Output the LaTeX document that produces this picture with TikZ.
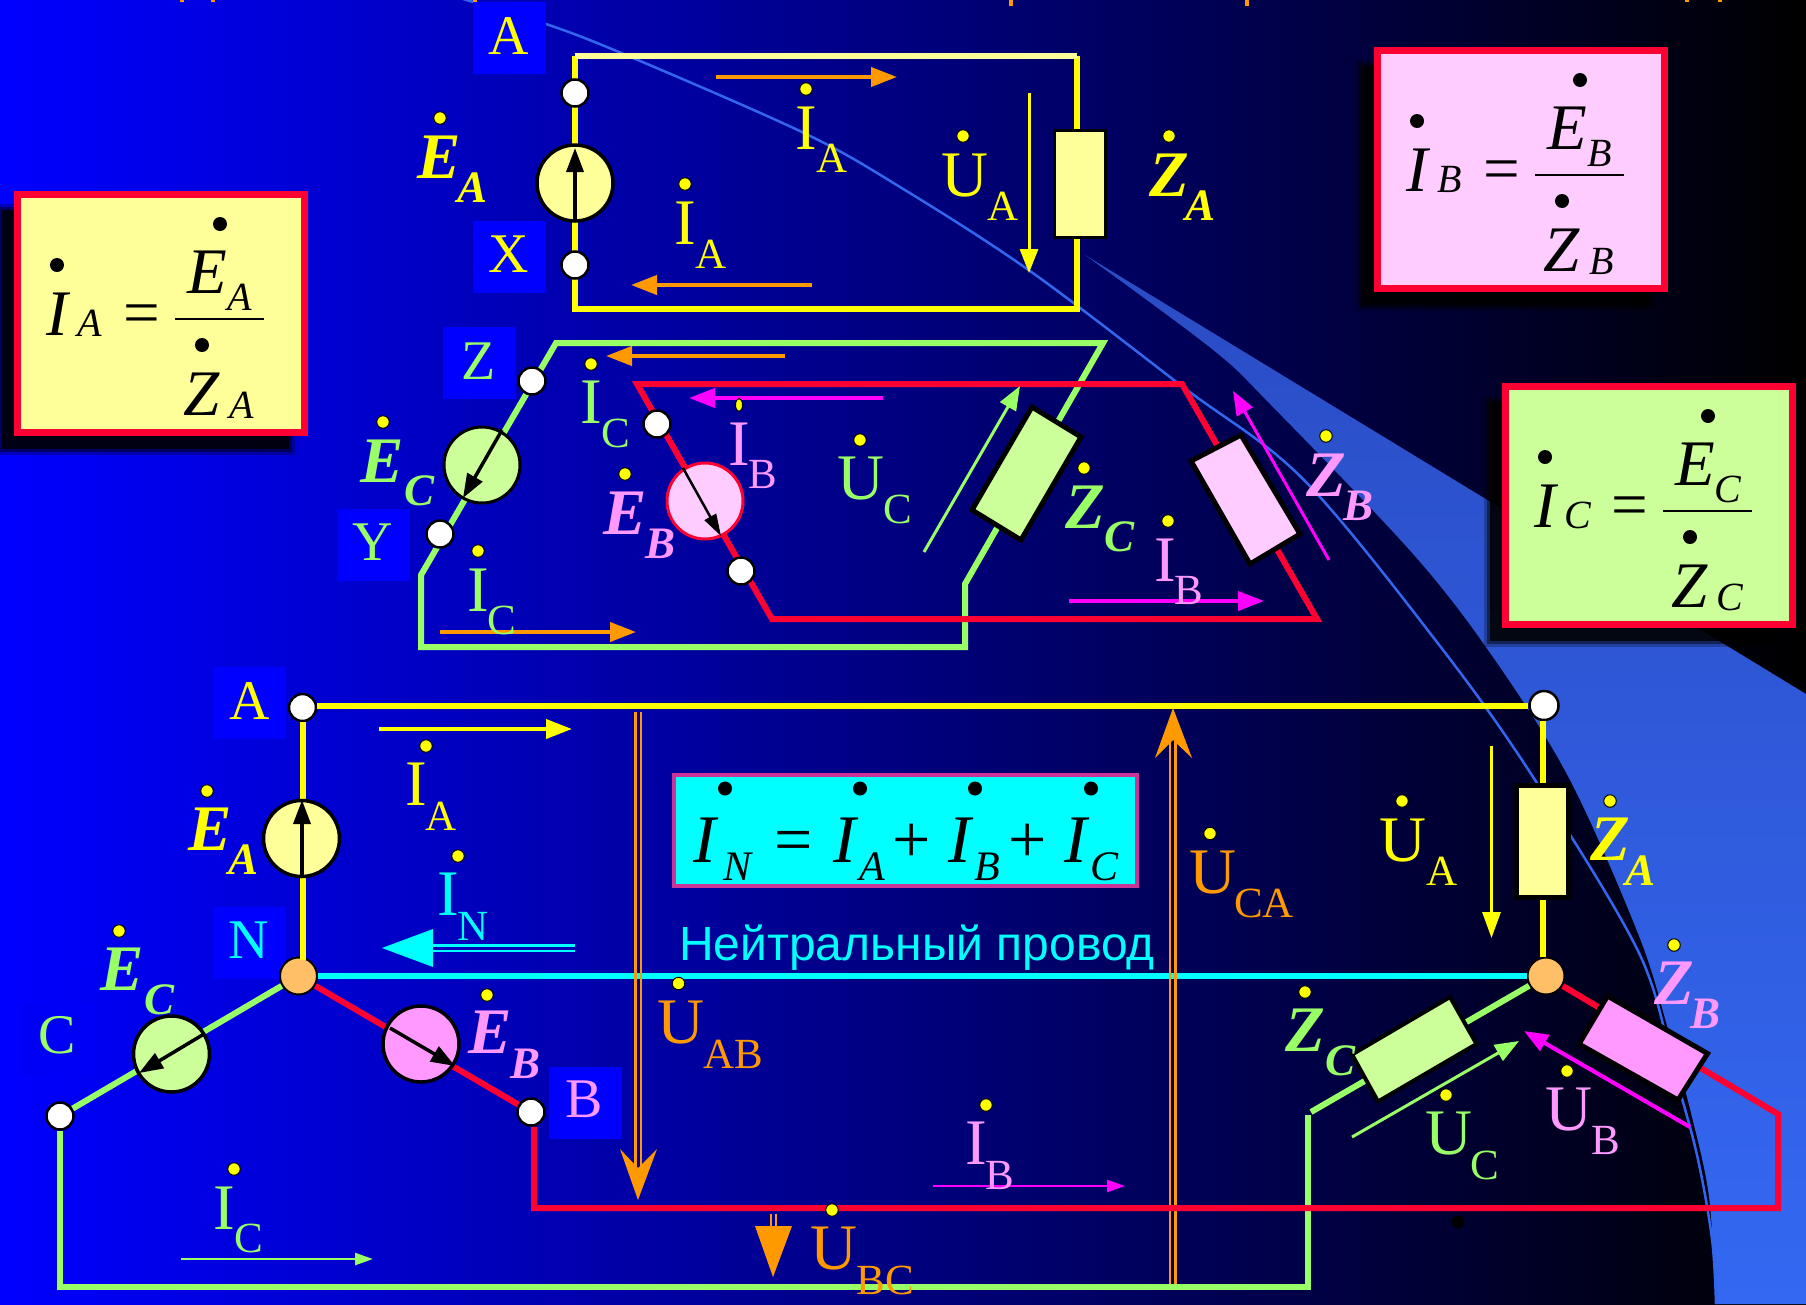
\documentclass[tikz,border=0pt]{standalone}
\usepackage{fontspec}
\setmainfont{Liberation Serif}
\newfontfamily\ruSans{Liberation Sans}
\usetikzlibrary{arrows.meta,calc,shapes.geometric}
\definecolor{Ypale}{HTML}{FFFF99}
\definecolor{Yel}{HTML}{FFFF00}
\definecolor{Grn}{HTML}{99FF66}
\definecolor{Gpale}{HTML}{CCFF99}
\definecolor{Red}{HTML}{FF0033}
\definecolor{Pnk}{HTML}{FF99FF}
\definecolor{Ppale}{HTML}{FFCCFF}
\definecolor{Mag}{HTML}{FF00FF}
\definecolor{Org}{HTML}{FF9900}
\definecolor{Cyn}{HTML}{00FFFF}
\definecolor{Navy}{HTML}{0000FF}
\definecolor{Thin}{HTML}{3366EE}
\definecolor{Wedge}{HTML}{2A4CC4}
\definecolor{WedgeB}{HTML}{3468F2}
\definecolor{Hub}{HTML}{FFBF66}
\definecolor{Plum}{HTML}{CC3399}
\tikzset{
  x=1pt,y=-1pt,
  txt/.style={inner sep=0pt,outer sep=0pt,anchor=base},
  main/.style={txt,font=\fontsize{65}{65}\selectfont},
  subs/.style={txt,font=\fontsize{43}{43}\selectfont},
  bmain/.style={txt,font=\fontsize{65}{65}\selectfont\bfseries\itshape},
  bsubs/.style={txt,font=\fontsize{45}{45}\selectfont\bfseries\itshape},
  imain/.style={txt,font=\fontsize{65}{65}\selectfont\itshape},
  isubs/.style={txt,font=\fontsize{40}{40}\selectfont\itshape},
  nmain/.style={txt,font=\fontsize{68}{68}\selectfont\itshape},
  nrom/.style={txt,font=\fontsize{68}{68}\selectfont},
  nsubs/.style={txt,font=\fontsize{42}{42}\selectfont\itshape},
  tag/.style={txt,font=\fontsize{56}{56}\selectfont},
  wire/.style={line width=6pt,line join=miter},
  term/.style={circle,draw=black,line width=2.5pt,fill=white,minimum size=27pt,inner sep=0pt},
  hub/.style={circle,draw=black,line width=2pt,fill=Hub,minimum size=37pt,inner sep=0pt},
  src/.style={circle,line width=3.5pt,minimum size=76pt,inner sep=0pt},
  zbox/.style={draw=black,line width=5pt,line join=miter},
  emf/.style={draw=black,line width=3.5pt,-{Triangle[length=24pt,width=17pt]}},
  arrbig/.style={line width=4pt,-{Triangle[length=26pt,width=19pt]}},
  arrmid/.style={line width=3.5pt,-{Triangle[length=24pt,width=18pt]}},
  arrthin/.style={line width=2.5pt,-{Triangle[length=18pt,width=12pt]}},
  dotm/.style={circle,draw=black,line width=1pt,fill=Yel,minimum size=12.5pt,inner sep=0pt},
  kdot/.style={circle,fill=black,minimum size=14pt,inner sep=0pt},
  bluebox/.style={fill=Navy,draw=none,minimum width=73pt,minimum height=72pt,inner sep=0pt,anchor=north west},
}
% phasor label: name, colour, dot x,y, main x,y, main letter, sub x,y, sub letter
\newcommand\Pha[9]{%
  \node[dotm] (#1d) at (#3,#4) {};
  \node[main,text=#2] (#1m) at (#5,#6) {#7};
  \phasorsub{#1}{#2}{#8}{#9}}
\newcommand\phasorsub[4]{\def\psname{#1}\def\pscol{#2}\def\psx{#3}\def\psy{#4}\phasorfinish}
\newcommand\phasorfinish[1]{\node[subs,text=\pscol] (\psname s) at (\psx,\psy) {#1};}
\newcommand\Bol[9]{%
  \node[dotm] (#1d) at (#3,#4) {};
  \node[bmain,text=#2] (#1m) at (#5,#6) {#7};
  \bolsub{#1}{#2}{#8}{#9}}
\newcommand\bolsub[4]{\def\psname{#1}\def\pscol{#2}\def\psx{#3}\def\psy{#4}\bolfinish}
\newcommand\bolfinish[1]{\node[bsubs,text=\pscol] (\psname s) at (\psx,\psy) {#1};}
% free arrow: name, style, p1, p2
\newcommand\Arr[4]{%
  \coordinate (#1a) at (#3);
  \coordinate (#1b) at (#4);
  \draw[#2] (#1a) -- (#1b);}
% formula box: prefix, fill, dx, dy, letter
\newcommand\FBox[5]{%
\begin{scope}[shift={(#3,#4)}]
  \fill[black,opacity=.25] (-4,204) rectangle (295,455);
  \fill[black,opacity=.45] (-1,207) rectangle (292,452);
  \fill[black,opacity=.8] (2,210) rectangle (289,449);
  \node[draw=Red,line width=7pt,fill=#2,minimum width=287pt,minimum height=238pt,inner sep=0pt,anchor=center] (#1box) at (161,313.5) {};
  \node[kdot] (#1di) at (57,265) {};
  \node[imain] (#1I) at (57,335) {I};
  \node[isubs] (#1Is) at (90,336) {#5};
  \node[main] (#1eq) at (142,334) {=};
  \coordinate (#1fa) at (175,319);
  \coordinate (#1fb) at (264,319);
  \draw[line width=2.5pt] (#1fa) -- (#1fb);
  \node[kdot] (#1de) at (220,224) {};
  \node[imain] (#1E) at (207,293) {E};
  \node[isubs] (#1Es) at (240,310) {#5};
  \node[kdot] (#1dz) at (202,345) {};
  \node[imain] (#1Z) at (202,415) {Z};
  \node[isubs] (#1Zs) at (242,418) {#5};
\end{scope}}
\begin{document}
\begin{tikzpicture}
\useasboundingbox (0,0) rectangle (1806,1304);
\clip (0,0) rectangle (1806,1304);
% ---------- background
\shade[left color=Navy,right color=black] (0,0) rectangle (1806,1304);
\path[top color=Wedge,bottom color=WedgeB]
  plot[smooth,tension=.55] coordinates {(1085,255)(1212,349)(1270,404)(1414,555)(1495,660)(1570,780)(1639,936)(1668,1029)(1691,1113)(1709,1197)(1716,1304)}
  -- (1806,1304) -- (1806,694) -- cycle;
\draw[Thin,line width=2.5pt] plot[smooth,tension=.55] coordinates {(463,-1)(546,24)(626,55)(804,133)(900,187)(1030,271)(1183,387)(1304,480)(1443,650)(1535,780)(1639,953)(1674,1071)(1697,1155)(1712,1239)(1716,1304)};
\foreach \tx/\th in {182/2,213/2,475/3,1011/6,1247/6,1687/2,1720/2}
  \fill[Org] (\tx-2,0) rectangle (\tx+2,\th);
\node[circle,fill=black,minimum size=13pt,inner sep=0pt] (stray) at (1458,1222) {};
% ---------- blue letter tiles
\node[bluebox] (tA) at (473,2) {};
\node[bluebox] (tX) at (473,221) {};
\node[bluebox] (tZ) at (443,327) {};
\node[bluebox] (tY) at (337,509) {};
\node[bluebox] (tA2) at (213,667) {};
\node[bluebox] (tN) at (213,907) {};
\node[bluebox] (tB) at (549,1067) {};
\node[bluebox,fill=Navy!97!black] (tC) at (21,1003) {};
% ---------- top A phase
\coordinate (a1) at (575,56);
\coordinate (a2) at (1077,56);
\coordinate (a3) at (1077,309);
\coordinate (a4) at (575,309);
\draw[wire,Yel] (a1) -- (a4) -- (a3) -- (a2);
\draw[wire,Ypale] (a1) -- (a2);
\node[term] (ta1) at (575,93) {};
\node[term] (ta2) at (575,265) {};
\node[src,draw=black,fill=Ypale] (ea) at (575,183) {};
\Arr{ea1}{emf}{575,219}{575,148}
\node[draw=black,line width=3pt,fill=Ypale,minimum width=51pt,minimum height=107pt,inner sep=0pt] (za) at (1079.5,183.5) {};
% ---------- top C phase
\coordinate (c1) at (556,343);
\coordinate (c2) at (1103,343);
\coordinate (c3) at (965,584);
\coordinate (c4) at (965,647);
\coordinate (c5) at (421,647);
\coordinate (c6) at (421,575);
\draw[wire,Grn] (c1) -- (c2) -- (c3) -- (c4) -- (c5) -- (c6) -- cycle;
% ---------- top B phase
\coordinate (b1) at (637,384);
\coordinate (b2) at (1182,384);
\coordinate (b3) at (1317,619);
\coordinate (b4) at (772,619);
\draw[wire,Red] (b1) -- (b2) -- (b3) -- (b4) -- cycle;
\node[term] (tc1) at (532,381) {};
\node[term] (tc2) at (440,534) {};
\node[src,draw=black,fill=Gpale,line width=3pt] (ec) at (482,465) {};
\Arr{ec1}{emf}{502,430}{463,498}
\node[term] (tb1) at (657,424) {};
\node[term] (tb2) at (741,571) {};
\node[src,draw=Red,fill=Ppale,line width=3pt] (eb) at (705,501) {};
\Arr{eb1}{draw=black,line width=2.5pt,-{Triangle[length=22pt,width=13pt]}}{683,468}{721,536}
\draw[zbox,fill=Gpale] (1032,407) coordinate (zc1) -- (1081,437) -- (1021,540) -- (972,510) -- cycle;
\draw[zbox,fill=Ppale] (1241,435) coordinate (zb1) -- (1300,534) -- (1250,564) -- (1191,461) -- cycle;
% ---------- top arrows
\Arr{ar1}{arrbig,Org}{716,77}{897,77}
\Arr{ar2}{arrbig,Org}{812,285}{631,285}
\Arr{ar3}{arrmid,Yel,line width=3pt}{1029,93}{1029,273}
\Arr{ar4}{arrbig,Org}{785,356}{606,356}
\Arr{ar5}{arrbig,Mag}{883,398}{689,398}
\Arr{ar6}{arrbig,Org}{440,632}{636,632}
\Arr{ar7}{arrmid,Grn,line width=3pt}{924,552}{1020,386}
\Arr{ar8}{arrmid,Mag,line width=3pt}{1329,560}{1233,391}
\Arr{ar9}{arrbig,Mag}{1069,601}{1264,601}
% ---------- top labels
\node[tag,text=Yel] (lA) at (509,54) {A};
\node[tag,text=Yel] (lX) at (509,272) {X};
\node[tag,text=Grn] (lZ) at (479,379) {Z};
\node[tag,text=Grn] (lY) at (373,560) {Y};
\Bol{u1}{Yel}{440}{118}{439}{178}{E}{473}{202}{A}
\Pha{u2}{Yel}{806}{89}{806}{149}{I}{832}{172.5}{A}
\Pha{u3}{Yel}{685}{184}{685}{244}{I}{711}{268}{A}
\Pha{u4}{Yel}{963}{136}{965}{196}{U}{1003}{220}{A}
\Bol{u5}{Yel}{1169}{136}{1169}{196}{Z}{1200}{220}{A}
\Bol{u6}{Grn}{383}{422}{382}{482}{E}{420}{505}{C}
\Pha{u7}{Grn}{591}{364}{591}{423}{I}{616}{447}{C}
\Pha{u8}{Grn}{478}{551}{478}{611}{I}{502}{634}{C}
\node[dotm,ellipse,minimum width=7pt,minimum height=13pt] (u9d) at (739,405) {};
\node[main,text=Pnk] (u9m) at (739,465) {I};
\node[subs,text=Pnk] (u9s) at (763,488) {B};
\Bol{u10}{Pnk}{625}{474}{625}{534}{E}{660}{558}{B}
\Pha{u11}{Grn}{860}{440}{861}{499}{U}{898}{523}{C}
\Bol{u12}{Grn}{1084}{468}{1085}{528}{Z}{1119}{551}{C}
\Pha{u13}{Pnk}{1168}{521}{1165}{581}{I}{1189}{604}{B}
\Bol{u14}{Pnk}{1326}{436}{1326}{496}{Z}{1358}{520}{B}
% ---------- formula boxes
\FBox{fa}{Ypale}{0}{0}{A}
\FBox{fb}{Ppale}{1360}{-144}{B}
\FBox{fc}{Gpale}{1488}{192}{C}
% ---------- bottom terminals
\coordinate (g1) at (60,1287);
\coordinate (g2) at (1308,1287);
\coordinate (g3) at (1308,1115);
\coordinate (g4) at (1311,1112);
\coordinate (r1) at (534,1208);
\coordinate (r2) at (1778,1208);
\coordinate (r3) at (1778,1114);
\coordinate (yw) at (0,706);
\coordinate (yv) at (1542.5,0);
\node[term] (nA) at (302.5,707.5) {};
\node[term,minimum size=29pt] (nAr) at (1544,705.5) {};
\node[term] (nC) at (60,1116) {};
\node[term] (nB) at (531,1112) {};
\node[hub] (nN) at (298.5,976) {};
\node[hub] (nNr) at (1546,976) {};
\draw[wire,Yel] (nA.east |- yw) -- (nAr.west |- yw);
\draw[wire,Yel] (nA.south) -- (302.5,960);
\draw[wire,Yel] (yv |- nAr.south) -- (yv |- nNr.north);
\draw[wire,Cyn] (nN) -- (nNr);
% orange double arrows
\coordinate (oa1) at (635.5,712);
\coordinate (oa2) at (635.5,1175);
\coordinate (oa3) at (641,712);
\coordinate (oa4) at (641,1175);
\draw[Org,line width=2.5pt] (oa1) -- (oa2) (oa3) -- (oa4);
\fill[Org] (638,1200) coordinate (oat) -- (620,1149) -- (638,1168) -- (657,1149) -- cycle;
\coordinate (oc1) at (1170,1284);
\coordinate (oc2) at (1170,735);
\coordinate (oc3) at (1175.5,1284);
\coordinate (oc4) at (1175.5,735);
\draw[Org,line width=2.5pt] (oc1) -- (oc2) (oc3) -- (oc4);
\fill[Org] (1173,708) coordinate (oct) -- (1155,758) -- (1173,740) -- (1192,758) -- cycle;
\coordinate (ob1) at (771,1214);
\coordinate (ob2) at (771,1228);
\coordinate (ob3) at (776,1214);
\coordinate (ob4) at (776,1228);
\draw[Org,line width=2pt] (ob1) -- (ob2) (ob3) -- (ob4);
\fill[Org] (755,1226) -- (792,1226) -- (773,1277) coordinate (obt) -- cycle;
% red and green
\draw[wire,Grn] (nC) -- (g1) -- (g2) -- (g3);
\draw[wire,Grn] (nC) -- (nN);
\draw[wire,Grn] (g4) -- (nNr);
\draw[wire,Red] (nN) -- (nB);
\draw[wire,Red] (r1 |- nB.south) -- (r1) -- (r2) -- (r3) -- (nNr);
% sources
\node[src,draw=black,fill=Ypale] (sa) at (301.5,838.5) {};
\Arr{sa1}{emf}{302,875}{302,800}
\node[src,draw=black,fill=Gpale] (sc) at (171.5,1054) {};
\Arr{sc1}{emf}{204,1034}{139,1073}
\node[src,draw=black,fill=Pnk] (sb) at (421,1044) {};
\Arr{sb1}{emf}{390,1028}{455,1066}
% loads
\node[draw=black,line width=5pt,fill=Ypale,minimum width=52pt,minimum height=112pt,inner sep=0pt] (lza) at (1542,841) {};
\draw[zbox,line width=4pt,fill=Gpale] (1450,997) coordinate (lzc) -- (1476.5,1044) -- (1378,1101.5) -- (1352,1054.5) -- cycle;
\draw[zbox,fill=Pnk] (1607.5,996) coordinate (lzb) -- (1707.5,1053.5) -- (1678,1100) -- (1579,1044) -- cycle;
% neutral box
\node[draw=Plum,line width=4pt,fill=Cyn,minimum width=463pt,minimum height=111pt,inner sep=0pt] (nbox) at (905,830.5) {};
\foreach \dx/\nm in {725/a,860/b,975/c,1091/d} \node[kdot] (nd\nm) at (\dx,788.5) {};
\node[nmain] (nI) at (705,862.5) {I};
\node[nsubs] (nIs) at (737,880.5) {N};
\node[nrom] (neq) at (794,862) {=};
\node[nmain] (nIa) at (845,862.5) {I};
\node[nsubs] (nIas) at (872.5,880.5) {A};
\node[nrom] (np1) at (912,862) {+};
\node[nmain] (nIb) at (960,862.5) {I};
\node[nsubs] (nIbs) at (987.5,880.5) {B};
\node[nrom] (np2) at (1028,862) {+};
\node[nmain] (nIc) at (1075.5,862.5) {I};
\node[nsubs] (nIcs) at (1104.5,880.5) {C};
% bottom arrows
\Arr{br1}{arrbig,Yel}{379,729}{572,729}
\coordinate (br2a) at (575,945.5);
\coordinate (br2b) at (433,945.5);
\coordinate (br2c) at (575,951);
\coordinate (br2d) at (433,951);
\draw[Cyn,line width=2.5pt] (br2a) -- (br2b) (br2c) -- (br2d);
\fill[Cyn] (382,948) coordinate (br2t) -- (433,929) -- (433,967) -- cycle;
\Arr{br3}{arrthin,Grn}{181,1259}{373,1259}
\Arr{br4}{arrthin,Mag}{933,1186}{1125,1186}
\Arr{br5}{arrmid,Yel,line width=3pt,-{Triangle[length=26pt,width=18pt]}}{1491.5,746}{1491.5,938}
\Arr{br6}{arrmid,Grn,line width=3pt}{1352,1137}{1519,1041}
\Arr{br7}{arrmid,Mag,line width=4pt}{1690,1127}{1524,1031}
% bottom labels
\node[tag,text=Yel] (lA2) at (250,719) {A};
\node[tag,text=Cyn] (lN) at (248.5,958) {N};
\node[tag,text=Pnk] (lB) at (584,1117) {B};
\node[tag,text=Grn] (lC) at (57,1053) {C};
\Bol{v1}{Yel}{207}{791}{210}{850}{E}{244}{874}{A}
\Pha{v2}{Yel}{426}{746}{416}{805.5}{I}{441}{830}{A}
\Pha{v3}{Cyn}{458}{856}{448}{915.5}{I}{473.5}{940.5}{N}
\Bol{v4}{Grn}{119}{931}{122}{990}{E}{160}{1014}{C}
\Bol{v5}{Pnk}{487}{995}{490}{1053.5}{E}{526}{1078}{B}
\Pha{v6}{Grn}{234}{1169}{224}{1229}{I}{248.5}{1252}{C}
\Pha{v7}{Org}{678.5}{983.5}{681}{1043}{U}{733}{1068}{AB}
\Pha{v8}{Org}{832}{1210}{834}{1269}{U}{885}{1294}{BC}
\Pha{v9}{Pnk}{986}{1105}{976}{1164}{I}{1000}{1189}{B}
\Pha{v10}{Org}{1210}{833.5}{1213}{893}{U}{1264}{917}{CA}
\Pha{v11}{Yel}{1402}{801}{1403}{861}{U}{1442}{885}{A}
\Bol{v12}{Yel}{1610}{801}{1610}{860.5}{Z}{1640}{885}{A}
\Bol{v13}{Grn}{1305}{992}{1305}{1051.5}{Z}{1340}{1075}{C}
\Bol{v14}{Pnk}{1674}{945}{1674}{1004.5}{Z}{1705}{1028}{B}
\Pha{v15}{Grn}{1446}{1095}{1449}{1154}{U}{1485}{1179}{C}
\Pha{v16}{Pnk}{1567}{1071}{1569}{1130.5}{U}{1605.5}{1154}{B}
\node[txt,anchor=base west,text=Cyn,font=\fontsize{48}{48}\selectfont\ruSans] (neutral) at (679,960.5) {Нейтральный провод};
\end{tikzpicture}
\end{document}
